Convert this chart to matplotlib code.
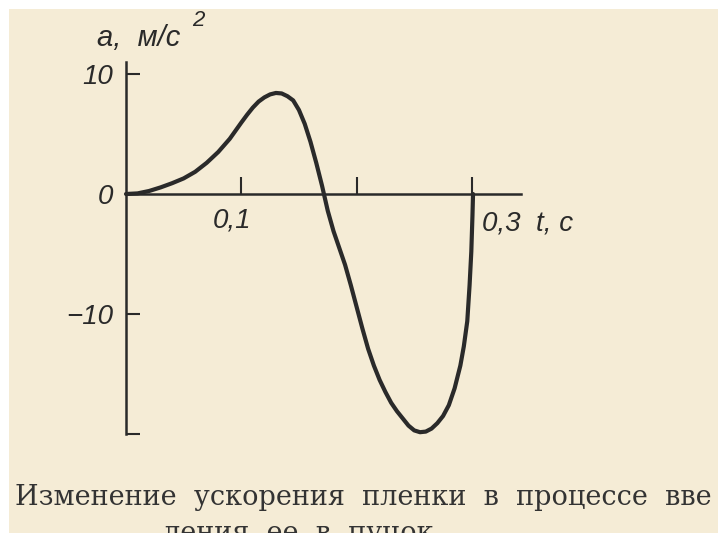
import matplotlib.pyplot as plt
import matplotlib.transforms as mtransforms
from matplotlib.patches import Rectangle

# film acceleration during insertion into the beam
t_s = [0.0, 0.01, 0.02, 0.03, 0.04, 0.05, 0.06, 0.07, 0.08, 0.09,
       0.10, 0.105, 0.11, 0.115, 0.12, 0.125, 0.13, 0.135, 0.14, 0.145,
       0.15, 0.155, 0.16, 0.165, 0.17, 0.175, 0.18, 0.185, 0.19, 0.195,
       0.20, 0.205, 0.21, 0.215, 0.22, 0.225, 0.23, 0.235, 0.24, 0.245,
       0.25, 0.255, 0.26, 0.265, 0.27, 0.275, 0.28, 0.285, 0.29, 0.293,
       0.296, 0.298, 0.2995, 0.3005, 0.301]
acc = [0.0, 0.05, 0.25, 0.55, 0.9, 1.3, 1.85, 2.6, 3.5, 4.6,
       5.95, 6.6, 7.2, 7.7, 8.05, 8.3, 8.42, 8.38, 8.15, 7.8,
       7.0, 5.85, 4.35, 2.6, 0.7, -1.4, -3.1, -4.5, -5.9, -7.6,
       -9.4, -11.2, -12.9, -14.3, -15.5, -16.5, -17.4, -18.1, -18.7, -19.3,
       -19.7, -19.85, -19.8, -19.55, -19.1, -18.5, -17.6, -16.2, -14.3, -12.7,
       -10.6, -7.6, -4.8, -1.8, 0.0]

x_ticks = [0.1, 0.2, 0.3]
x_tick_labels = ['0,1', '', '']
y_ticks = [10, 0, -10, -20]
y_tick_labels = ['10', '0', '\u221210', '']

caption_1 = 'Изменение  ускорения  пленки  в  процессе  вве'
caption_2 = 'ления  ее  в  пучок'

paper = '#f5ecd6'
ink = '#2a2a2a'
W, H = 718, 533

fig = plt.figure(figsize=(W / 100, H / 100), dpi=100, facecolor='white')
fig.patches.append(Rectangle((9 / W, 0), 1, 1 - 9 / H, transform=fig.transFigure,
                             facecolor=paper, edgecolor='none', zorder=-10))

ax = fig.add_axes([126 / W, 1 - 434 / H, (521 - 126) / W, (434 - 62) / H])
ax.set_facecolor('none')
ax.set_xlim(0, 0.3426)
ax.set_ylim(-20, 11)

ax.plot(t_s, acc, color=ink, lw=3.0, solid_capstyle='round',
        solid_joinstyle='round', clip_on=False)

for side in ['top', 'right']:
    ax.spines[side].set_visible(False)
ax.spines['bottom'].set_position(('data', 0))
for side in ['left', 'bottom']:
    ax.spines[side].set_linewidth(1.8)
    ax.spines[side].set_color(ink)

tick_font = dict(family='Liberation Sans', style='italic', size=20, color=ink)
ax.set_xticks(x_ticks)
ax.set_xticklabels(x_tick_labels, **tick_font)
ax.set_yticks(y_ticks)
ax.set_yticklabels(y_tick_labels, **tick_font)
ax.tick_params(axis='x', direction='in', length=12, width=1.5, color=ink, pad=10)
ax.tick_params(axis='y', direction='in', length=10, width=1.5, color=ink, pad=9)

# the slanted "0,1" sits a bit left of its tick
shift = mtransforms.ScaledTranslation(-9 / 100, 0, fig.dpi_scale_trans)
for lbl in ax.get_xticklabels():
    lbl.set_transform(lbl.get_transform() + shift)

ax.annotate('0,3  t, c', xy=(0.3, 0), xytext=(7, -21), textcoords='offset points',
            ha='left', va='center', **tick_font)

# y axis name, with the exponent set a little higher and apart
fig.text(97 / W, 1 - 38 / H, 'a,  м/с', ha='left', va='center',
         family='Liberation Sans', style='italic', size=21, color=ink)
fig.text(192 / W, 1 - 20 / H, '2', ha='left', va='center',
         family='Liberation Sans', style='italic', size=16, color=ink)

fig.text(15 / W, 1 - 505 / H, caption_1, ha='left', va='baseline',
         family='DejaVu Serif', size=19.5, color='#333333')
fig.text(163 / W, 1 - 541 / H, caption_2, ha='left', va='baseline',
         family='DejaVu Serif', size=19.5, color='#333333')

fig.savefig('out.png', dpi=100, facecolor='white')
